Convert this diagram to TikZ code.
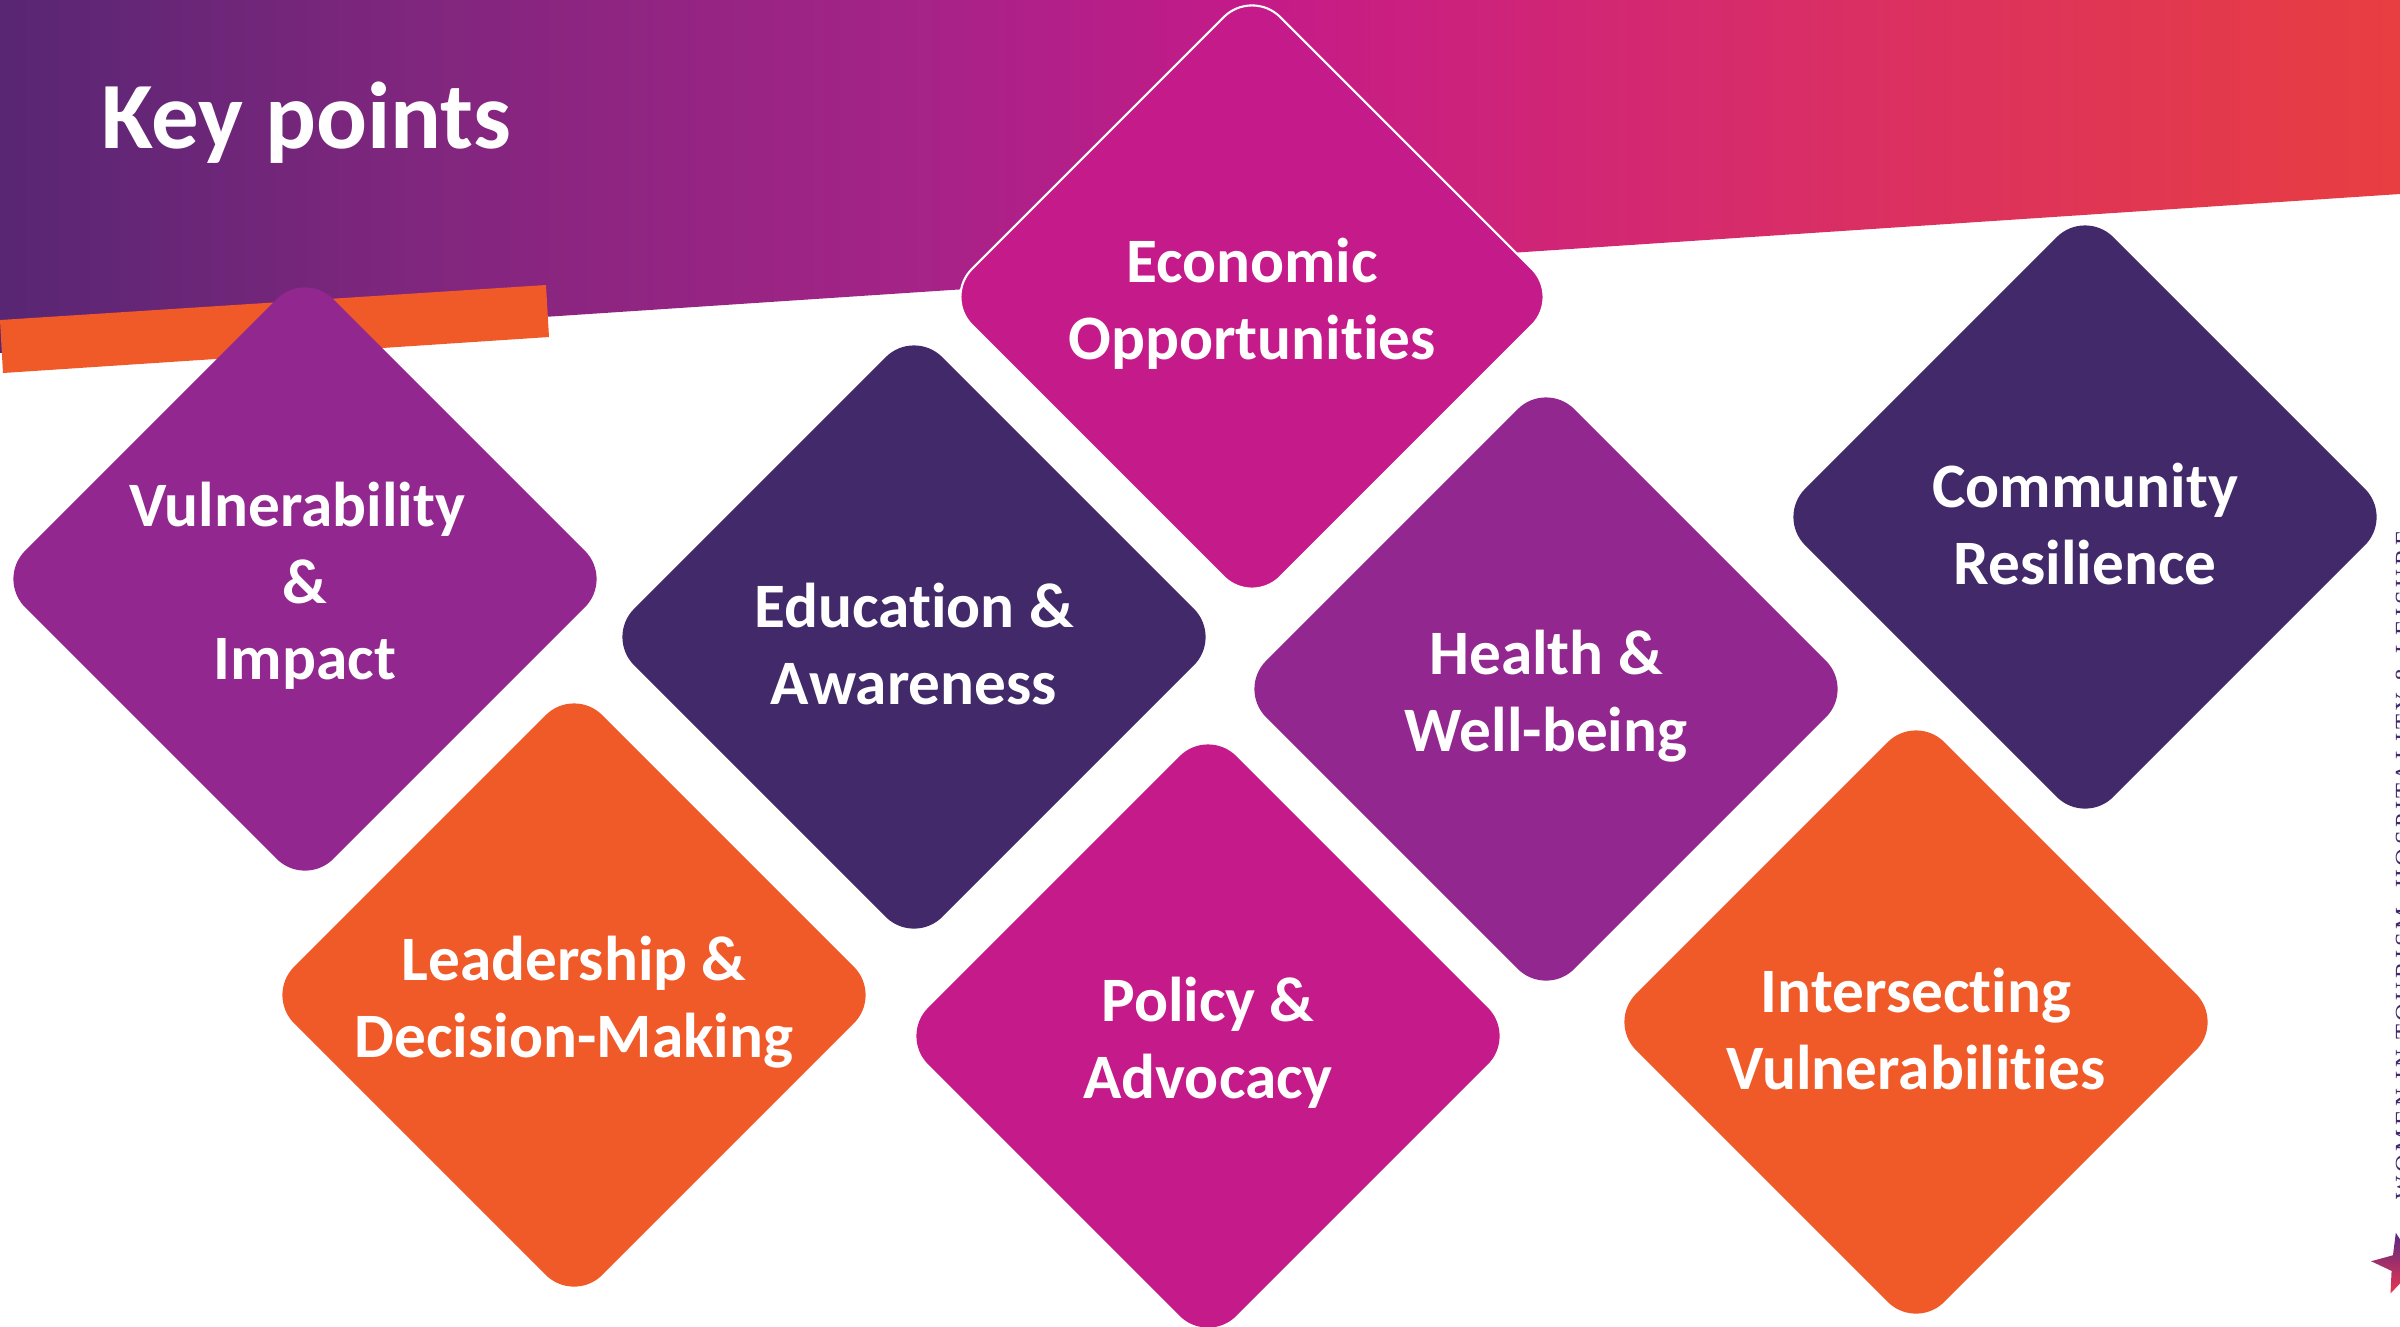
\documentclass[tikz,border=0pt]{standalone}
\usepackage{fontspec}
\setmainfont{Carlito}[Ligatures=CommonOff]
\newfontfamily\tagfont[LetterSpace=15]{Liberation Serif}
\usetikzlibrary{shapes.geometric}
\definecolor{kpurple}{RGB}{146,39,143}
\definecolor{kdark}{RGB}{66,41,106}
\definecolor{kmagenta}{RGB}{197,26,137}
\definecolor{korange}{RGB}{240,90,41}
\definecolor{bandA}{RGB}{88,38,115}
\definecolor{bandB}{RGB}{125,38,125}
\definecolor{bandC}{RGB}{165,35,135}
\definecolor{bandD}{RGB}{196,26,137}
\definecolor{bandE}{RGB}{213,42,110}
\definecolor{bandF}{RGB}{232,62,65}
\definecolor{starA}{RGB}{90,40,130}
\definecolor{starB}{RGB}{232,55,80}
\pgfdeclarehorizontalshading{keyband}{100bp}{color(0bp)=(bandA); color(25bp)=(bandA); color(33bp)=(bandB); color(44bp)=(bandC); color(51bp)=(bandD); color(60bp)=(bandE); color(75bp)=(bandF); color(100bp)=(bandF)}
\tikzset{
  keyd/.style={diamond, minimum width=6.16cm, minimum height=6.16cm, inner sep=0pt, outer sep=0pt, rounded corners=0.4cm, draw=none},
  keytext/.style={text=white, align=center, inner sep=0pt, yshift=-0.07cm, font=\bfseries\fontsize{18}{21.8}\selectfont},
}
\begin{document}
\begin{tikzpicture}[x=0.01cm, y=-0.01cm]
\useasboundingbox (0,0) rectangle (2400,1326);
\clip (0,0) rectangle (2400,1326);
% header band
\shade[shading=keyband] (0,0) -- (2400,0) -- (2400,194) -- (0,353) -- cycle;
\fill[korange] (0,320) -- (546,285) -- (549,337) -- (3,373) -- cycle;
\node[anchor=base west, inner sep=0pt, text=white, font=\bfseries\fontsize{27}{32}\selectfont] (title) at (101,148) {Key points};
% diamonds
\node[keyd, fill=kpurple] (vul) at (305,579) {};
\node[keytext] (vult) at (vul) {Vulnerability\rule{4.5pt}{0pt}\\\&\\Impact};
\node[keyd, fill=kdark] (edu) at (914,637) {};
\node[keytext] (edut) at (edu) {Education \&\\Awareness};
\node[keyd, fill=kmagenta, draw=white, line width=0.6pt] (eco) at (1252,297) {};
\node[keytext] (ecot) at (eco) {Economic\\Opportunities};
\node[keyd, fill=kpurple] (hea) at (1546,689) {};
\node[keytext] (heat) at (hea) {Health \&\\Well-being};
\node[keyd, fill=kdark] (com) at (2085,517) {};
\node[keytext] (comt) at (com) {Community\\Resilience};
\node[keyd, fill=korange] (lea) at (574,995) {};
\node[keytext] (leat) at (lea) {Leadership \&\\Decision-Making};
\node[keyd, fill=kmagenta] (pol) at (1208,1036) {};
\node[keytext] (polt) at (pol) {Policy \&\\Advocacy};
\node[keyd, fill=korange] (int) at (1916,1022) {};
\node[keytext] (intt) at (int) {Intersecting\\Vulnerabilities};
% side tag and logo star
\node[rotate=90, anchor=base, inner sep=0pt, text=kdark, font=\tagfont\fontsize{7}{8}\selectfont] (tag) at (2412,865) {WOMEN IN TOURISM, HOSPITALITY \& LEISURE};
\node[star, star points=5, star point ratio=2.4, minimum size=0.64cm, inner sep=0pt, rotate=13, top color=starA, bottom color=starB, draw=none] (logo) at (2403,1264) {};
\end{tikzpicture}
\end{document}
